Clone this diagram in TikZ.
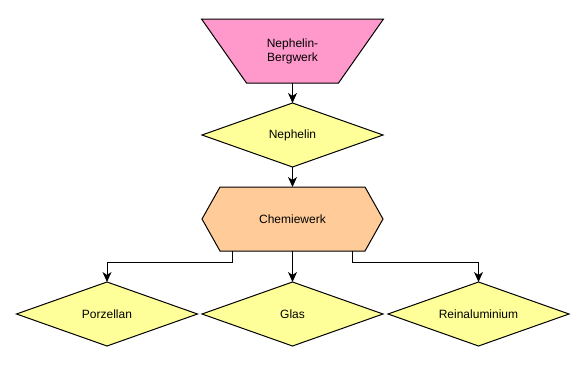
\documentclass[tikz,border=0pt]{standalone}
\usepackage{fontspec}
\setmainfont{Liberation Sans}
\usetikzlibrary{shapes.geometric,arrows.meta,calc,backgrounds}
\definecolor{pinkf}{HTML}{FF99CC}
\definecolor{yellowf}{HTML}{FFFF99}
\definecolor{orangef}{HTML}{FFCC99}
\tikzset{
  dia/.style={shape=diamond, draw=black, fill=yellowf, line width=1pt,
    minimum width=181, minimum height=64, shape aspect=2.83, inner sep=0pt, outer sep=0pt},
  boxarea/.style={shape=rectangle, minimum width=182, minimum height=64, inner sep=0pt, outer sep=0pt, align=center},
  shapeline/.style={draw=black, line width=1pt, line join=miter},
  arr/.style={draw=black, line width=1pt, -{Stealth[length=10pt,width=9pt,inset=3pt]}}
}
\begin{document}
\begin{tikzpicture}[x=1pt,y=-1pt, font=\fontsize{12}{14}\selectfont]
\useasboundingbox (0,0) rectangle (587,375);
\node[boxarea] (mine) at (292.5,51) {Nephelin-\\Bergwerk};
\node[dia] (neph) at (292.5,135) {Nephelin};
\node[boxarea, minimum width=181] (chem) at (292.5,219) {Chemiewerk};
\node[dia] (porz) at (107,314) {Porzellan};
\node[dia] (glas) at (292.5,314) {Glas};
\node[dia] (rein) at (478.5,314) {Reinaluminium};
\begin{scope}[on background layer]
  \draw[shapeline, fill=pinkf] (mine.north west) -- (mine.north east)
     -- ($(mine.south east)+(-45,0)$) -- ($(mine.south west)+(45,0)$) -- cycle;
  \draw[shapeline, fill=orangef] (chem.west) -- ($(chem.north west)+(18,0)$)
     -- ($(chem.north east)+(-18,0)$) -- (chem.east)
     -- ($(chem.south east)+(-18,0)$) -- ($(chem.south west)+(18,0)$) -- cycle;
\end{scope}
\draw[arr] (mine.south) -- (neph.north);
\draw[arr] (neph.south) -- (chem.north);
\draw[arr] ($(chem.south)+(-60,0)$) -- ++(0,11) -| (porz.north);
\draw[arr] (chem.south) -- (glas.north);
\draw[arr] ($(chem.south)+(60,0)$) -- ++(0,11) -| (rein.north);
\end{tikzpicture}
\end{document}
